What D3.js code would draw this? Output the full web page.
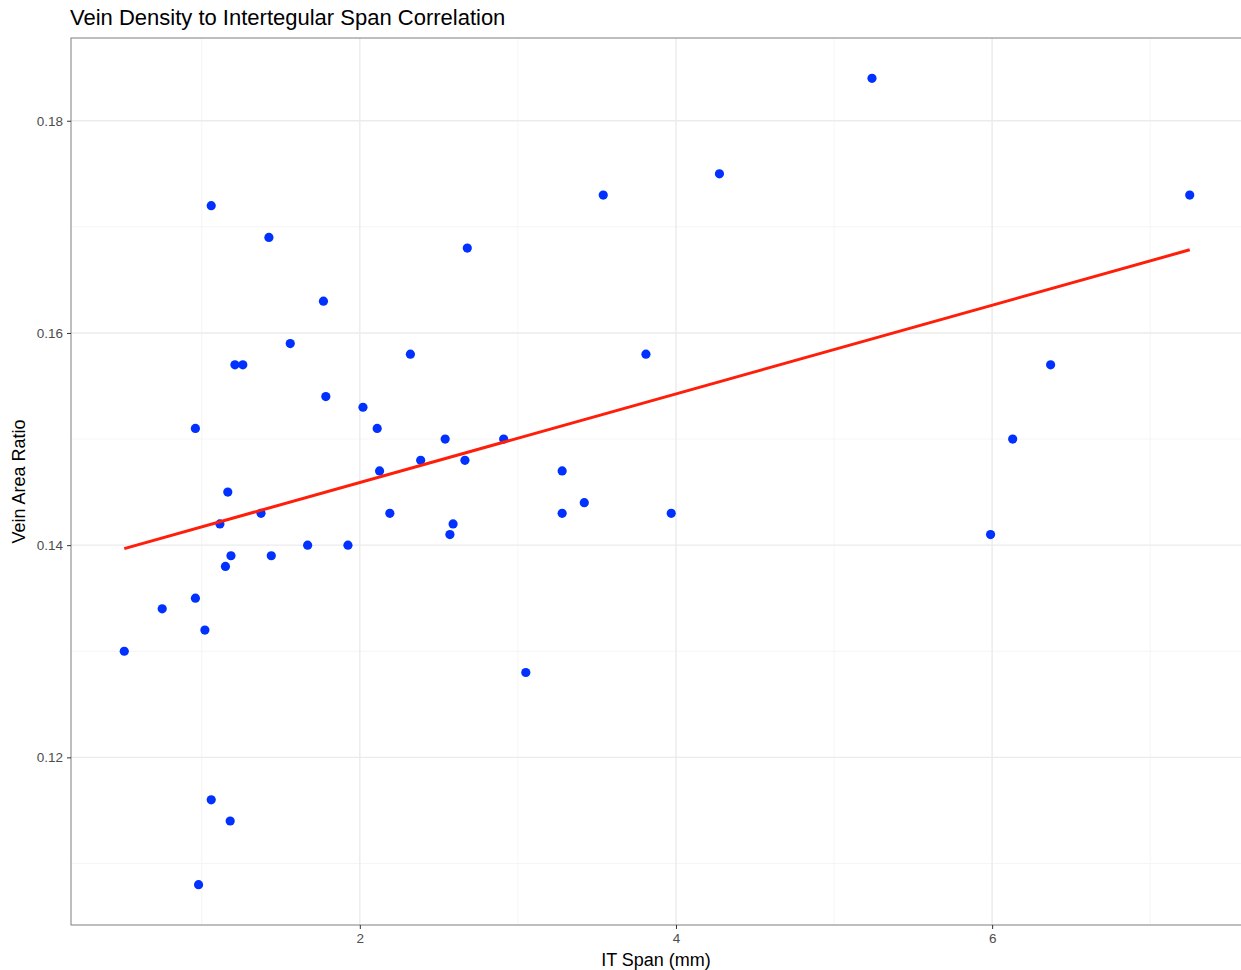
<!DOCTYPE html>
<html>
<head>
<meta charset="utf-8">
<script src="https://cdn.jsdelivr.net/npm/d3@7"></script>
<style>
  body { margin: 0; background: #fff; font-family: "Liberation Sans", Arial, sans-serif; overflow: hidden; }
  .tick text { fill: #4d4d4d; font-size: 13.5px; }
</style>
</head>
<body>
<div id="chart"></div>
<script>
// IT span (mm) and vein area ratio
var itSpan = [0.51, 0.75, 0.96, 0.96, 0.98, 1.02, 1.06, 1.06, 1.115, 1.15, 1.165, 1.18,
  1.185, 1.21, 1.26, 1.375, 1.425, 1.44, 1.56, 1.67, 1.77, 1.785, 1.925, 2.02,
  2.11, 2.125, 2.19, 2.32, 2.385, 2.54, 2.57, 2.59, 2.665, 2.68, 2.91, 3.05,
  3.28, 3.28, 3.42, 3.54, 3.81, 3.97, 4.275, 5.24, 5.99, 6.13, 6.37, 7.25];
var veinRatio = [0.130, 0.134, 0.151, 0.135, 0.108, 0.132, 0.172, 0.116, 0.142, 0.138, 0.145, 0.114,
  0.139, 0.157, 0.157, 0.143, 0.169, 0.139, 0.159, 0.140, 0.163, 0.154, 0.140, 0.153,
  0.151, 0.147, 0.143, 0.158, 0.148, 0.150, 0.141, 0.142, 0.148, 0.168, 0.150, 0.128,
  0.143, 0.147, 0.144, 0.173, 0.158, 0.143, 0.175, 0.184, 0.141, 0.150, 0.157, 0.173];
var xTicks = [2, 4, 6];
var yTicks = [0.12, 0.14, 0.16, 0.18];
var xMinor = [1, 3, 5, 7];
var yMinor = [0.11, 0.13, 0.15, 0.17];

var data = itSpan.map(function (d, i) {
  return { x: d, y: veinRatio[i] };
});

var width = 1241,
  height = 970;
// the panel runs a couple of pixels past the right edge of the picture
var margin = { top: 38, right: -2, bottom: 45, left: 71 };
var graphWidth = width - margin.left - margin.right,
  graphHeight = height - margin.top - margin.bottom;

function expand(ext) {
  var pad = (ext[1] - ext[0]) * 0.05;
  return [ext[0] - pad, ext[1] + pad];
}

var x = d3.scaleLinear().domain(expand(d3.extent(itSpan))).range([0, graphWidth]);
var y = d3.scaleLinear().domain(expand(d3.extent(veinRatio))).range([graphHeight, 0]);

// least squares fit, like geom_smooth(method = "lm")
var mx = d3.mean(itSpan),
  my = d3.mean(veinRatio);
var sxy = d3.sum(data, function (d) { return (d.x - mx) * (d.y - my); });
var sxx = d3.sum(data, function (d) { return (d.x - mx) * (d.x - mx); });
var slope = sxy / sxx,
  intercept = my - slope * mx;
var fitX = d3.extent(itSpan);

var svg = d3.select("#chart").append("svg").attr("width", width).attr("height", height);
var graph = svg.append("g").attr("transform", "translate(" + margin.left + "," + margin.top + ")");

// grid
graph.append("g").selectAll("line").data(xMinor).enter().append("line")
  .attr("x1", x).attr("x2", x).attr("y1", 0).attr("y2", graphHeight)
  .attr("stroke", "#f2f2f2").attr("stroke-width", 0.8);
graph.append("g").selectAll("line").data(yMinor).enter().append("line")
  .attr("y1", y).attr("y2", y).attr("x1", 0).attr("x2", graphWidth)
  .attr("stroke", "#f2f2f2").attr("stroke-width", 0.8);
graph.append("g").selectAll("line").data(xTicks).enter().append("line")
  .attr("x1", x).attr("x2", x).attr("y1", 0).attr("y2", graphHeight)
  .attr("stroke", "#ebebeb").attr("stroke-width", 1.4);
graph.append("g").selectAll("line").data(yTicks).enter().append("line")
  .attr("y1", y).attr("y2", y).attr("x1", 0).attr("x2", graphWidth)
  .attr("stroke", "#ebebeb").attr("stroke-width", 1.4);

// points
graph.append("g").selectAll("circle").data(data).enter().append("circle")
  .attr("cx", function (d) { return x(d.x); })
  .attr("cy", function (d) { return y(d.y); })
  .attr("r", 4.6)
  .attr("fill", "#0031ff");

// regression line
graph.append("line")
  .attr("x1", x(fitX[0])).attr("y1", y(intercept + slope * fitX[0]))
  .attr("x2", x(fitX[1])).attr("y2", y(intercept + slope * fitX[1]))
  .attr("stroke", "#ff1e0a").attr("stroke-width", 3);

// border
graph.append("rect")
  .attr("width", graphWidth).attr("height", graphHeight)
  .attr("fill", "none").attr("stroke", "#7f7f7f").attr("stroke-width", 1);

var gX = graph.append("g").attr("transform", "translate(0," + graphHeight + ")")
  .call(d3.axisBottom(x).tickValues(xTicks).tickSize(4).tickPadding(4).tickFormat(d3.format("d")));
var gY = graph.append("g")
  .call(d3.axisLeft(y).tickValues(yTicks).tickSize(4).tickPadding(4).tickFormat(d3.format(".2f")));
[gX, gY].forEach(function (g) {
  g.select(".domain").remove();
  g.selectAll(".tick line").attr("stroke", "#333");
  g.selectAll(".tick text").style("font-family", "Liberation Sans, Arial, sans-serif");
});

svg.append("text")
  .attr("x", 70).attr("y", 25)
  .style("font-size", "22px").attr("fill", "#000")
  .text("Vein Density to Intertegular Span Correlation");
svg.append("text")
  .attr("x", 656).attr("y", 966)
  .attr("text-anchor", "middle").style("font-size", "18px")
  .text("IT Span (mm)");
svg.append("text")
  .attr("transform", "translate(25," + (margin.top + graphHeight / 2) + ") rotate(-90)")
  .attr("text-anchor", "middle").style("font-size", "18px")
  .text("Vein Area Ratio");
</script>
</body>
</html>
